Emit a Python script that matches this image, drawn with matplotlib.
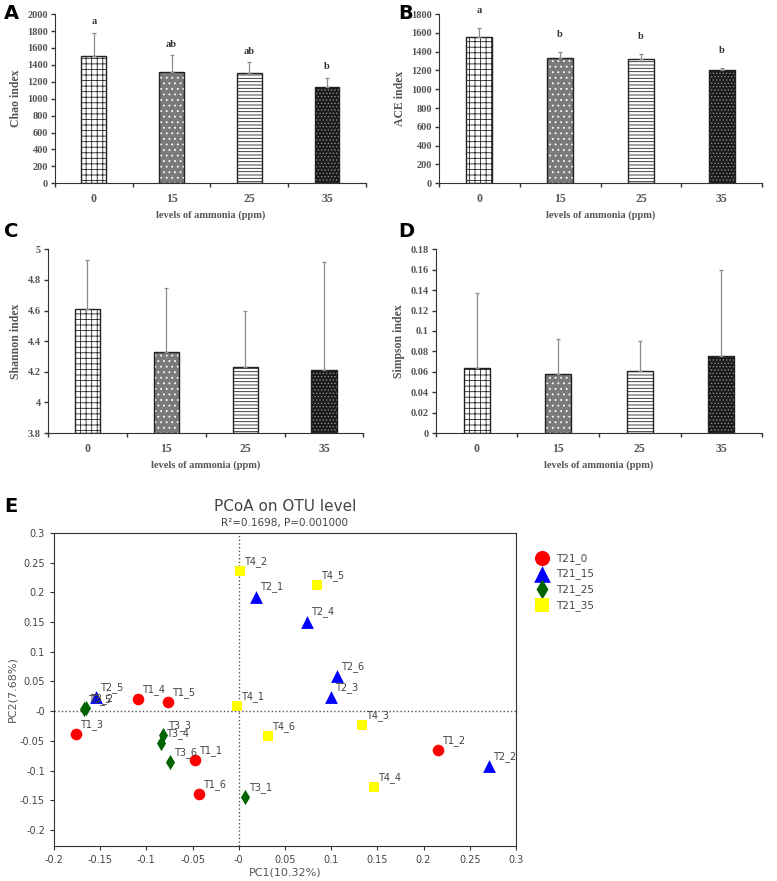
import numpy as np
import matplotlib.pyplot as plt

# alpha diversity data
levels = ['0', '15', '25', '35']
chao_mean = [1500, 1315, 1305, 1140]
chao_sd = [280, 200, 125, 110]
chao_letters = ['a', 'ab', 'ab', 'b']
ace_mean = [1555, 1335, 1320, 1200]
ace_sd = [95, 60, 55, 25]
ace_letters = ['a', 'b', 'b', 'b']
shannon_mean = [4.61, 4.33, 4.23, 4.21]
shannon_sd = [0.32, 0.42, 0.37, 0.71]
simpson_mean = [0.064, 0.058, 0.061, 0.075]
simpson_sd = [0.073, 0.034, 0.029, 0.085]

# PCoA data
group_names = ['T21_0', 'T21_15', 'T21_25', 'T21_35']
t1_names = ['T1_1', 'T1_2', 'T1_3', 'T1_4', 'T1_5', 'T1_6']
t1_pc1 = [-0.047, 0.216, -0.176, -0.109, -0.077, -0.043]
t1_pc2 = [-0.082, -0.066, -0.038, 0.021, 0.015, -0.139]
t2_names = ['T2_1', 'T2_2', 'T2_3', 'T2_4', 'T2_5', 'T2_6']
t2_pc1 = [0.019, 0.271, 0.100, 0.074, -0.155, 0.106]
t2_pc2 = [0.193, -0.093, 0.024, 0.151, 0.024, 0.059]
t3_names = ['T3_1', 'T3_2', 'T3_3', 'T3_4', 'T3_5', 'T3_6']
t3_pc1 = [0.007, -0.1656, -0.0815, -0.0837, -0.168, -0.0746]
t3_pc2 = [-0.145, 0.0056, -0.040, -0.054, 0.003, -0.085]
t4_names = ['T4_1', 'T4_2', 'T4_3', 'T4_4', 'T4_5', 'T4_6']
t4_pc1 = [-0.002, 0.001, 0.133, 0.146, 0.085, 0.032]
t4_pc2 = [0.008, 0.236, -0.023, -0.128, 0.212, -0.042]

plt.rcParams['hatch.linewidth'] = 0.6
grey = '#555555'

fig = plt.figure(figsize=(7.77, 8.81), dpi=100)


def draw_bars(ax, means, sds, ylim, yticks, ylabel, letters=None, letter_gap=0):
    x = np.arange(len(means))
    faces = ['white', '#7a7a7a', 'white', '#1a1a1a']
    hatch_cols = ['#222222', 'white', '#222222', '#8a8a8a']
    hatches = ['+++', '...', '-----', '.....']
    base = ylim[0]
    for i in range(len(means)):
        ax.bar(x[i], means[i] - base, bottom=base, width=0.32, color=faces[i],
               edgecolor=hatch_cols[i], hatch=hatches[i], linewidth=0)
        ax.bar(x[i], means[i] - base, bottom=base, width=0.32, fill=False,
               edgecolor='#222222', linewidth=1.0)
    ax.errorbar(x, means, yerr=[np.zeros(len(sds)), sds], fmt='none',
                ecolor='#8c8c8c', elinewidth=0.9, capsize=1.5, capthick=0.9)
    if letters:
        for i in range(len(means)):
            ax.text(x[i], means[i] + sds[i] + letter_gap, letters[i], ha='center',
                    va='bottom', fontsize=7.5, fontweight='bold', color='#333333',
                    family='Liberation Serif')
    ax.set_xlim(-0.5, 3.5)
    ax.set_ylim(*ylim)
    ax.set_yticks(yticks)
    ax.set_yticklabels(['{:g}'.format(round(v, 4)) for v in yticks])
    ax.set_xticks(x)
    ax.set_xticklabels(levels)
    ax.set_xticks(np.arange(-0.5, 4, 1), minor=True)
    ax.tick_params(axis='x', which='major', length=0, pad=7)
    ax.tick_params(axis='x', which='minor', length=3, width=1, direction='out', color='#333333')
    ax.tick_params(axis='y', length=3, width=1, direction='out', color='#333333', pad=2)
    for lab in ax.get_xticklabels() + ax.get_yticklabels():
        lab.set_family('Liberation Serif')
        lab.set_fontweight('bold')
        lab.set_color(grey)
    for lab in ax.get_xticklabels():
        lab.set_fontsize(8.5)
    for lab in ax.get_yticklabels():
        lab.set_fontsize(7.5)
    ax.spines['top'].set_visible(False)
    ax.spines['right'].set_visible(False)
    ax.spines['left'].set_color('#333333')
    ax.spines['bottom'].set_color('#333333')
    ax.set_ylabel(ylabel, family='Liberation Serif', fontweight='bold', color=grey, fontsize=8.5)
    ax.set_xlabel('levels of ammonia (ppm)', family='Liberation Serif', fontweight='bold',
                  color=grey, fontsize=7.5, labelpad=4)


axA = fig.add_axes([0.0708, 0.792, 0.400, 0.192])
draw_bars(axA, chao_mean, chao_sd, (0, 2000), np.arange(0, 2001, 200), 'Chao index',
          chao_letters, 75)
axB = fig.add_axes([0.565, 0.792, 0.416, 0.192])
draw_bars(axB, ace_mean, ace_sd, (0, 1800), np.arange(0, 1801, 200), 'ACE index',
          ace_letters, 140)
axC = fig.add_axes([0.0618, 0.5085, 0.406, 0.2085])
draw_bars(axC, shannon_mean, shannon_sd, (3.8, 5.0), np.arange(3.8, 5.01, 0.2), 'Shannon index')
axD = fig.add_axes([0.561, 0.5085, 0.420, 0.2085])
draw_bars(axD, simpson_mean, simpson_sd, (0, 0.18), np.arange(0, 0.181, 0.02), 'Simpson index')

# PCoA panel
axE = fig.add_axes([0.0695, 0.0397, 0.5945, 0.3553])
groups = [(t1_names, t1_pc1, t1_pc2, 'o', 'red', 70),
          (t2_names, t2_pc1, t2_pc2, '^', 'blue', 85),
          (t3_names, t3_pc1, t3_pc2, 'd', 'darkgreen', 60),
          (t4_names, t4_pc1, t4_pc2, 's', 'yellow', 55)]
for (names, px, py, mk, col, sz), gname in zip(groups, group_names):
    axE.scatter(px, py, marker=mk, color=col, s=sz, label=gname, zorder=3, linewidths=0)
    for n, a, b in zip(names, px, py):
        axE.annotate(n, (a, b), xytext=(3, 3), textcoords='offset points', fontsize=7,
                     color='#444444', ha='left', va='bottom', zorder=4)
axE.axvline(0, color='#555555', linestyle=':', linewidth=1)
axE.axhline(0, color='#555555', linestyle=':', linewidth=1)
axE.set_xlim(-0.2, 0.3)
axE.set_ylim(-0.227, 0.3)
xt = np.arange(-0.2, 0.301, 0.05)
yt = np.arange(-0.2, 0.301, 0.05)
axE.set_xticks(xt)
axE.set_xticklabels(['{:g}'.format(round(v, 2)) for v in xt])
axE.set_yticks(yt)
axE.set_yticklabels(['{:g}'.format(round(v, 2)) for v in yt])
axE.tick_params(labelsize=7, labelcolor='#444444', length=3, color='#333333')
for s in axE.spines.values():
    s.set_color('#333333')
axE.set_xlabel('PC1(10.32%)', fontsize=8, color='#555555', labelpad=2)
axE.set_ylabel('PC2(7.68%)', fontsize=8, color='#555555', labelpad=2)
axE.set_title('PCoA on OTU level', fontsize=11, color='#444444', pad=16)
axE.text(0.5, 1.015, 'R²=0.1698, P=0.001000', transform=axE.transAxes, ha='center',
         va='bottom', fontsize=7.5, color='#444444')
leg = axE.legend(loc='upper left', bbox_to_anchor=(1.025, 0.95), frameon=False, fontsize=7.5,
                 labelcolor='#444444', handletextpad=0.3, borderaxespad=0, labelspacing=0.45,
                 markerscale=1.3)

# panel letters
for lab, xx, yy in [('A', 0.005, 0.985), ('B', 0.512, 0.985), ('C', 0.005, 0.737),
                    ('D', 0.512, 0.737), ('E', 0.005, 0.425)]:
    fig.text(xx, yy, lab, fontsize=14, fontweight='bold', ha='left', va='center')

fig.savefig('out.png', dpi=100)
